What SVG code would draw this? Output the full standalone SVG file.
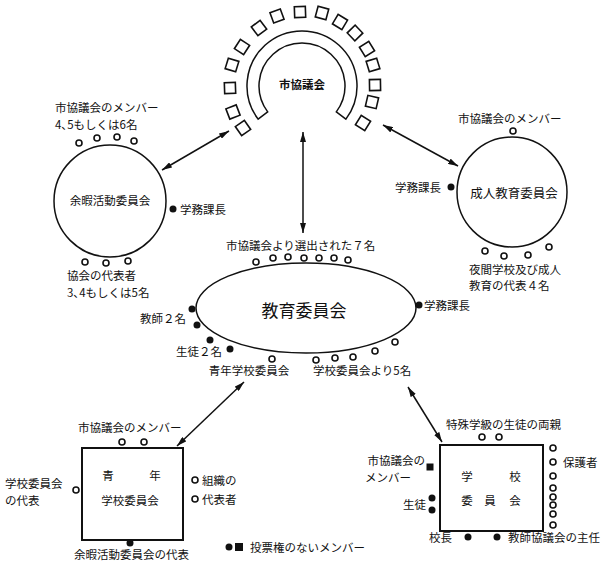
<svg xmlns="http://www.w3.org/2000/svg" width="608" height="565" viewBox="0 0 608 565">
<style>
text{font-family:"Noto Sans CJK JP","Noto Sans",sans-serif;font-size:11.5px;fill:#111;dominant-baseline:central}
.big{font-size:17px}
.mid{font-size:12.5px}
.b{font-weight:bold}
.ln{stroke:#111;stroke-width:1.5;fill:none}
.oc{fill:#fff;stroke:#111;stroke-width:1.6}
.bc{fill:#111}
.seat{fill:#fff;stroke:#111;stroke-width:1.6}
</style>
<defs>
<marker id="ah" viewBox="0 0 10 6" refX="10" refY="3" markerWidth="10" markerHeight="6" markerUnits="userSpaceOnUse" orient="auto-start-reverse">
<path d="M0,0 L10,3 L0,6 Z" fill="#111"/>
</marker>
<rect id="sq" x="-5.5" y="-5.5" width="11" height="11"/>
</defs>
<rect width="608" height="565" fill="#fff"/>

<g id="city-council">
<path class="ln" d="M258.1 119.1 A55 55 0 1 1 345.9 119.1 L336.3 111.9 A43 43 0 1 0 267.7 111.9 Z"/>
<g class="seat">
<use href="#sq" transform="translate(243,128) rotate(145)"/>
<use href="#sq" transform="translate(233,112) rotate(159)"/>
<use href="#sq" transform="translate(230,88) rotate(178)"/>
<use href="#sq" transform="translate(232,65) rotate(197)"/>
<use href="#sq" transform="translate(242,47) rotate(213)"/>
<use href="#sq" transform="translate(259,28) rotate(233)"/>
<use href="#sq" transform="translate(277,16) rotate(250)"/>
<use href="#sq" transform="translate(300,12) rotate(268)"/>
<use href="#sq" transform="translate(322,13) rotate(285)"/>
<use href="#sq" transform="translate(340,22) rotate(301)"/>
<use href="#sq" transform="translate(355,33) rotate(316)"/>
<use href="#sq" transform="translate(367,49) rotate(328)"/>
<use href="#sq" transform="translate(373,65) rotate(343)"/>
<use href="#sq" transform="translate(375,85) rotate(359)"/>
<use href="#sq" transform="translate(372,102) rotate(13)"/>
<use href="#sq" transform="translate(363,123) rotate(32)"/>
</g>
<text x="302" y="84" text-anchor="middle" class="b">市協議会</text>
</g>

<g id="connectors">
<line class="ln" x1="229" y1="131" x2="162" y2="170" marker-start="url(#ah)" marker-end="url(#ah)"/>
<line class="ln" x1="383" y1="125" x2="458" y2="166" marker-start="url(#ah)" marker-end="url(#ah)"/>
<line class="ln" x1="303" y1="132" x2="303" y2="233" marker-start="url(#ah)" marker-end="url(#ah)"/>
<line class="ln" x1="244" y1="382" x2="177" y2="446" marker-start="url(#ah)" marker-end="url(#ah)"/>
<line class="ln" x1="408" y1="387" x2="442" y2="442" marker-start="url(#ah)" marker-end="url(#ah)"/>
</g>

<g id="recreation-committee">
<circle class="ln" cx="110" cy="201" r="56"/>
<text x="110" y="200" text-anchor="middle">余暇活動委員会</text>
<text x="55" y="107">市協議会のメンバー</text>
<text x="55" y="124">4､5もしくは6名</text>
<circle class="oc" cx="79" cy="143" r="3"/>
<circle class="oc" cx="97" cy="138" r="3"/>
<circle class="oc" cx="117" cy="137" r="3"/>
<circle class="oc" cx="134" cy="141" r="3"/>
<circle class="bc" cx="173" cy="209" r="3.5"/>
<text x="180" y="209">学務課長</text>
<circle class="oc" cx="85" cy="262" r="3"/>
<circle class="oc" cx="106" cy="263" r="3"/>
<circle class="oc" cx="128" cy="261" r="3"/>
<text x="67" y="275">協会の代表者</text>
<text x="67" y="292">3､4もしくは5名</text>
</g>

<g id="adult-education-committee">
<circle class="ln" cx="512" cy="192" r="55"/>
<text x="514" y="192" text-anchor="middle" class="mid">成人教育委員会</text>
<text x="458" y="118">市協議会のメンバー</text>
<circle class="oc" cx="513" cy="131" r="3"/>
<text x="395" y="187">学務課長</text>
<circle class="bc" cx="451" cy="187" r="3.5"/>
<circle class="oc" cx="485" cy="251" r="3"/>
<circle class="oc" cx="504" cy="256" r="3"/>
<circle class="oc" cx="528" cy="255" r="3"/>
<circle class="oc" cx="549" cy="247" r="3"/>
<text x="469" y="269">夜間学校及び成人</text>
<text x="469" y="285">教育の代表４名</text>
</g>

<g id="board-of-education">
<ellipse class="ln" cx="306" cy="308" rx="110" ry="45"/>
<text x="304" y="309" text-anchor="middle" class="big">教育委員会</text>
<text x="226" y="245">市協議会より選出された７名</text>
<circle class="oc" cx="256" cy="262" r="3"/>
<circle class="oc" cx="273" cy="258" r="3"/>
<circle class="oc" cx="288" cy="257" r="3"/>
<circle class="oc" cx="304" cy="258" r="3"/>
<circle class="oc" cx="319" cy="258" r="3"/>
<circle class="oc" cx="334" cy="258" r="3"/>
<circle class="oc" cx="348" cy="260" r="3"/>
<circle class="bc" cx="419" cy="305" r="3.5"/>
<text x="424" y="305">学務課長</text>
<text x="186" y="318" text-anchor="end">教師２名</text>
<circle class="bc" cx="192" cy="309" r="3.5"/>
<circle class="bc" cx="197" cy="325" r="3.5"/>
<circle class="bc" cx="210" cy="340" r="3.5"/>
<circle class="bc" cx="230" cy="349" r="3.5"/>
<text x="222" y="351" text-anchor="end">生徒２名</text>
<circle class="oc" cx="272" cy="359" r="3"/>
<text x="249" y="370" text-anchor="middle">青年学校委員会</text>
<circle class="oc" cx="316" cy="360" r="3"/>
<circle class="oc" cx="335" cy="358" r="3"/>
<circle class="oc" cx="353" cy="357" r="3"/>
<circle class="oc" cx="375" cy="351" r="3"/>
<circle class="oc" cx="395" cy="342" r="3"/>
<text x="313" y="370">学校委員会より5名</text>
</g>

<g id="youth-school-committee">
<rect x="82" y="448" width="101" height="92" fill="none" stroke="#111" stroke-width="2"/>
<text x="108" y="475" text-anchor="middle">青</text>
<text x="155" y="475" text-anchor="middle">年</text>
<text x="130" y="500" text-anchor="middle">学校委員会</text>
<text x="78" y="427">市協議会のメンバー</text>
<circle class="oc" cx="122" cy="442" r="3"/>
<circle class="oc" cx="144" cy="442" r="3"/>
<text x="5" y="483">学校委員会</text>
<text x="5" y="500">の代表</text>
<circle class="oc" cx="76" cy="490" r="3"/>
<circle class="oc" cx="195" cy="480" r="3"/>
<circle class="oc" cx="195" cy="499" r="3"/>
<text x="202" y="480">組織の</text>
<text x="202" y="499">代表者</text>
<circle class="bc" cx="130" cy="543" r="3.5"/>
<text x="74" y="554">余暇活動委員会の代表</text>
</g>

<g id="school-committee">
<rect x="440" y="445" width="103" height="86" fill="none" stroke="#111" stroke-width="2"/>
<text x="467" y="476" text-anchor="middle">学</text>
<text x="515" y="476" text-anchor="middle">校</text>
<text x="467" y="500" text-anchor="middle">委</text>
<text x="490" y="500" text-anchor="middle">員</text>
<text x="515" y="500" text-anchor="middle">会</text>
<text x="446" y="424">特殊学級の生徒の両親</text>
<circle class="oc" cx="482" cy="437" r="3"/>
<circle class="oc" cx="499" cy="437" r="3"/>
<rect x="426.5" y="463.5" width="7" height="7" fill="#111"/>
<text x="425" y="460" text-anchor="end">市協議会の</text>
<text x="365" y="477">メンバー</text>
<text x="426" y="504" text-anchor="end">生徒</text>
<circle class="bc" cx="432" cy="498" r="3.5"/>
<circle class="bc" cx="432" cy="510" r="3.5"/>
<circle class="oc" cx="553" cy="448" r="3"/>
<circle class="oc" cx="553" cy="462" r="3"/>
<circle class="oc" cx="553" cy="476" r="3"/>
<circle class="oc" cx="553" cy="488" r="3"/>
<circle class="oc" cx="553" cy="497" r="3"/>
<circle class="oc" cx="553" cy="505" r="3"/>
<circle class="oc" cx="553" cy="514" r="3"/>
<circle class="oc" cx="553" cy="525" r="3"/>
<text x="563" y="462">保護者</text>
<text x="429" y="537">校長</text>
<circle class="bc" cx="468" cy="537" r="3.5"/>
<circle class="bc" cx="497" cy="537" r="3.5"/>
<text x="508" y="537">教師協議会の主任</text>
</g>

<g id="legend">
<circle class="bc" cx="229" cy="547" r="3.5"/>
<rect x="235" y="543" width="8" height="8" fill="#111"/>
<text x="250" y="547">投票権のないメンバー</text>
</g>
</svg>
